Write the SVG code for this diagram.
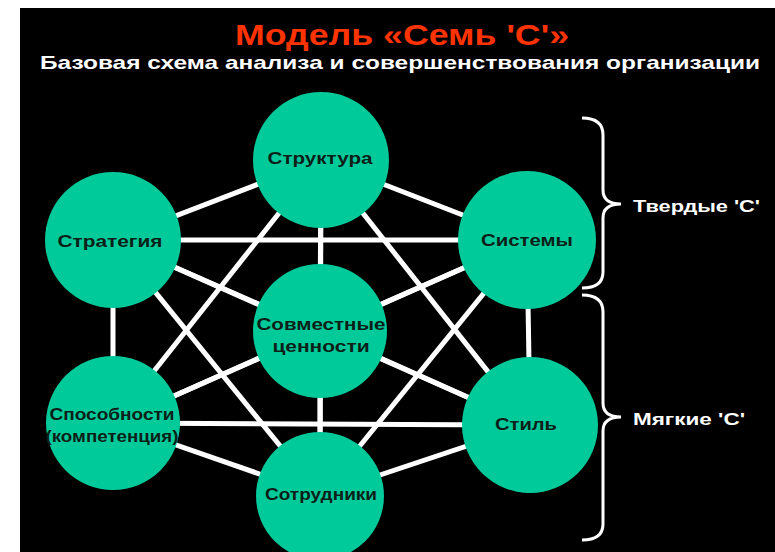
<svg xmlns="http://www.w3.org/2000/svg" width="775" height="552" viewBox="0 0 775 552">
<style>
.edge{stroke:#ffffff;stroke-width:5;fill:none}
.node{fill:#00c99a}
.lbl{font-family:"Liberation Sans",Arial,sans-serif;font-weight:bold;font-size:16px;fill:#0b1f18;text-anchor:middle}
.brace{stroke:#ffffff;stroke-width:3;fill:none}
.side{font-family:"Liberation Sans",Arial,sans-serif;font-weight:bold;font-size:16px;fill:#ffffff}
</style>
<rect x="0" y="0" width="775" height="552" fill="#ffffff"/>
<rect x="20" y="8" width="755" height="544" fill="#000000"/>
<text x="402" y="45" font-family="'Liberation Sans',Arial,sans-serif" font-weight="bold" font-size="30" fill="#ff3300" text-anchor="middle" textLength="334" lengthAdjust="spacingAndGlyphs">Модель «Семь 'С'»</text>
<text x="400" y="69" font-family="'Liberation Sans',Arial,sans-serif" font-weight="bold" font-size="19" fill="#ffffff" text-anchor="middle" textLength="720" lengthAdjust="spacingAndGlyphs">Базовая схема анализа и совершенствования организации</text>
<g id="connectors">
<line class="edge" x1="321" y1="160" x2="113" y2="240"/>
<line class="edge" x1="321" y1="160" x2="527" y2="240"/>
<line class="edge" x1="321" y1="160" x2="320" y2="331"/>
<line class="edge" x1="321" y1="160" x2="113" y2="423"/>
<line class="edge" x1="321" y1="160" x2="530" y2="425"/>
<line class="edge" x1="321" y1="160" x2="320" y2="495"/>
<line class="edge" x1="113" y1="240" x2="527" y2="240"/>
<line class="edge" x1="113" y1="240" x2="320" y2="331"/>
<line class="edge" x1="113" y1="240" x2="113" y2="423"/>
<line class="edge" x1="113" y1="240" x2="530" y2="425"/>
<line class="edge" x1="113" y1="240" x2="320" y2="495"/>
<line class="edge" x1="527" y1="240" x2="320" y2="331"/>
<line class="edge" x1="527" y1="240" x2="113" y2="423"/>
<line class="edge" x1="527" y1="240" x2="530" y2="425"/>
<line class="edge" x1="527" y1="240" x2="320" y2="495"/>
<line class="edge" x1="320" y1="331" x2="113" y2="423"/>
<line class="edge" x1="320" y1="331" x2="530" y2="425"/>
<line class="edge" x1="320" y1="331" x2="320" y2="495"/>
<line class="edge" x1="113" y1="423" x2="530" y2="425"/>
<line class="edge" x1="113" y1="423" x2="320" y2="495"/>
<line class="edge" x1="530" y1="425" x2="320" y2="495"/>
</g>
<g id="strategy"><circle class="node" cx="113" cy="240" r="68"/><text class="lbl" x="110" y="247" textLength="105" lengthAdjust="spacingAndGlyphs">Стратегия</text></g>
<g id="structure"><circle class="node" cx="321" cy="160" r="68"/><text class="lbl" x="320" y="164" textLength="105" lengthAdjust="spacingAndGlyphs">Структура</text></g>
<g id="systems"><circle class="node" cx="527" cy="240" r="69"/><text class="lbl" x="527" y="246" textLength="92" lengthAdjust="spacingAndGlyphs">Системы</text></g>
<g id="shared-values"><circle class="node" cx="320" cy="331" r="67"/><text class="lbl" x="321" y="330" textLength="129" lengthAdjust="spacingAndGlyphs">Совместные</text><text class="lbl" x="321" y="352" textLength="97" lengthAdjust="spacingAndGlyphs">ценности</text></g>
<g id="skills"><circle class="node" cx="113" cy="423" r="67"/><text class="lbl" x="112" y="420" textLength="125" lengthAdjust="spacingAndGlyphs">Способности</text><text class="lbl" x="112" y="442" textLength="133" lengthAdjust="spacingAndGlyphs">(компетенция)</text></g>
<g id="style"><circle class="node" cx="530" cy="425" r="68"/><text class="lbl" x="526" y="430" textLength="62" lengthAdjust="spacingAndGlyphs">Стиль</text></g>
<g id="staff"><circle class="node" cx="320" cy="496" r="64"/><text class="lbl" x="321" y="500" textLength="112" lengthAdjust="spacingAndGlyphs">Сотрудники</text></g>
<g id="hard-brace">
<path class="brace" d="M582,118 Q603,118 603,135 L603,190 Q603,204 621,204 Q603,204 603,218 L603,272 Q603,288 582,288"/>
<text class="side" x="633" y="212" textLength="127" lengthAdjust="spacingAndGlyphs">Твердые 'С'</text>
</g>
<g id="soft-brace">
<path class="brace" d="M582,295 Q603,295 603,312 L603,403 Q603,417 621,417 Q603,417 603,431 L603,524 Q603,540 582,540"/>
<text class="side" x="633" y="425" textLength="112" lengthAdjust="spacingAndGlyphs">Мягкие 'С'</text>
</g>
</svg>
